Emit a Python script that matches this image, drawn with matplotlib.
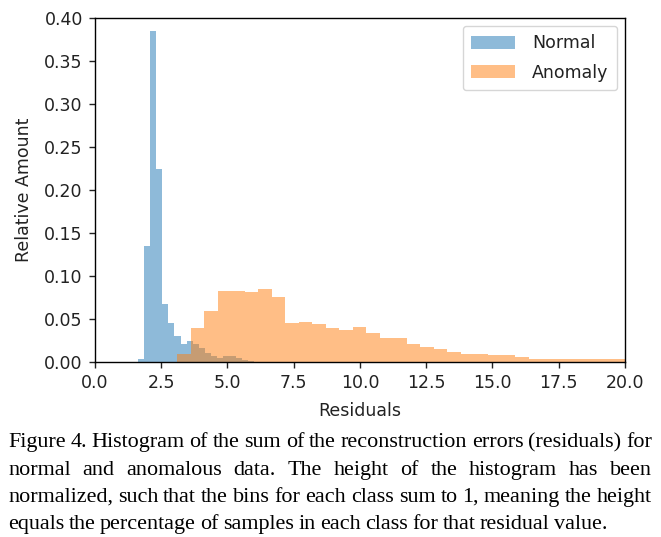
import numpy as np
import matplotlib
matplotlib.use("Agg")
import matplotlib.pyplot as plt

# ---------------- data ----------------
normal_bin_start = 1.61
normal_bin_width = 0.231
normal_heights = [0.0035, 0.135, 0.385, 0.224, 0.067, 0.045, 0.030, 0.0205,
                  0.024, 0.021, 0.016, 0.011, 0.007, 0.0043, 0.0073, 0.0073,
                  0.0043, 0.0023, 0.001]

anomaly_bin_start = 3.1
anomaly_bin_width = 0.51
anomaly_heights = [0.009, 0.040, 0.059, 0.083, 0.082, 0.081, 0.085, 0.076,
                   0.045, 0.0465, 0.0445, 0.039, 0.037, 0.041, 0.034,
                   0.0275, 0.0275, 0.0205, 0.017, 0.0147, 0.0112,
                   0.0093, 0.0093, 0.0078, 0.0078, 0.0055,
                   0.0035, 0.0035, 0.0035, 0.0035, 0.0035, 0.0035, 0.0035, 0.0035]

series_labels = ["Normal", "Anomaly"]
x_ticks = [0.0, 2.5, 5.0, 7.5, 10.0, 12.5, 15.0, 17.5, 20.0]
y_ticks = [0.00, 0.05, 0.10, 0.15, 0.20, 0.25, 0.30, 0.35, 0.40]
x_label = "Residuals"
y_label = "Relative Amount"
caption_lines = [
    "Figure 4. Histogram of the sum of the reconstruction errors (residuals) for",
    "normal and anomalous data. The height of the histogram has been",
    "normalized, such that the bins for each class sum to 1, meaning the height",
    "equals the percentage of samples in each class for that residual value.",
]

# ---------------- figure ----------------
W, H = 661, 537
fig = plt.figure(figsize=(W / 100, H / 100), dpi=100)
ax = fig.add_axes([95 / W, 1 - 362 / H, (625 - 95) / W, (362 - 18) / H])

fs = 12.5
n_edges = normal_bin_start + normal_bin_width * np.arange(len(normal_heights) + 1)
a_edges = anomaly_bin_start + anomaly_bin_width * np.arange(len(anomaly_heights) + 1)

ax.hist(n_edges[:-1], bins=n_edges, weights=normal_heights, alpha=0.5,
        color="tab:blue", label=series_labels[0])
ax.hist(a_edges[:-1], bins=a_edges, weights=anomaly_heights, alpha=0.5,
        color="tab:orange", label=series_labels[1])

ax.set_xlim(0, 20)
ax.set_ylim(0, 0.40)
ax.set_xticks(x_ticks)
ax.set_xticklabels([f"{v:.1f}" for v in x_ticks])
ax.set_yticks(y_ticks)
ax.set_yticklabels([f"{v:.2f}" for v in y_ticks])
ax.tick_params(labelsize=fs, length=4.4, width=1.0, pad=4.4, colors="#222222")
ax.set_xlabel(x_label, fontsize=fs, labelpad=7, color="#222222")
ax.set_ylabel(y_label, fontsize=fs, labelpad=8, color="#222222")
for s in ax.spines.values():
    s.set_linewidth(1.0)
leg = ax.legend(loc="upper right", fontsize=fs, handlelength=2.5, handleheight=0.8,
                borderpad=0.5, labelspacing=0.65, handletextpad=1.0,
                borderaxespad=0.45)
for t in leg.get_texts():
    t.set_color("#222222")

# ---------------- caption (justified) ----------------
renderer = fig.canvas.get_renderer()
serif = "Liberation Serif"

def text_width(s, size):
    t = fig.text(0, 0, s, fontsize=size, family=serif)
    w = t.get_window_extent(renderer).width
    t.remove()
    return w

x0, x1 = 8, 652
target = x1 - x0
base = 14.0
words0 = caption_lines[0].split()
sp0 = text_width("a a", base) - text_width("aa", base)
nat = sum(text_width(w, base) for w in words0) + sp0 * 0.8 * (len(words0) - 1)
cfs = base * target / nat

baselines = [447, 475, 502, 529]
space_w = text_width("a a", cfs) - text_width("aa", cfs)
for i, (line, yb) in enumerate(zip(caption_lines, baselines)):
    words = line.split()
    widths = [text_width(w, cfs) for w in words]
    if i < len(caption_lines) - 1:
        gap = (target - sum(widths)) / (len(words) - 1)
    else:
        gap = space_w * 0.8
    x = x0
    for w, ww in zip(words, widths):
        fig.text(x / W, 1 - yb / H, w, fontsize=cfs, family=serif,
                 va="baseline", ha="left")
        x += ww + gap

fig.savefig("out.png", dpi=100)
